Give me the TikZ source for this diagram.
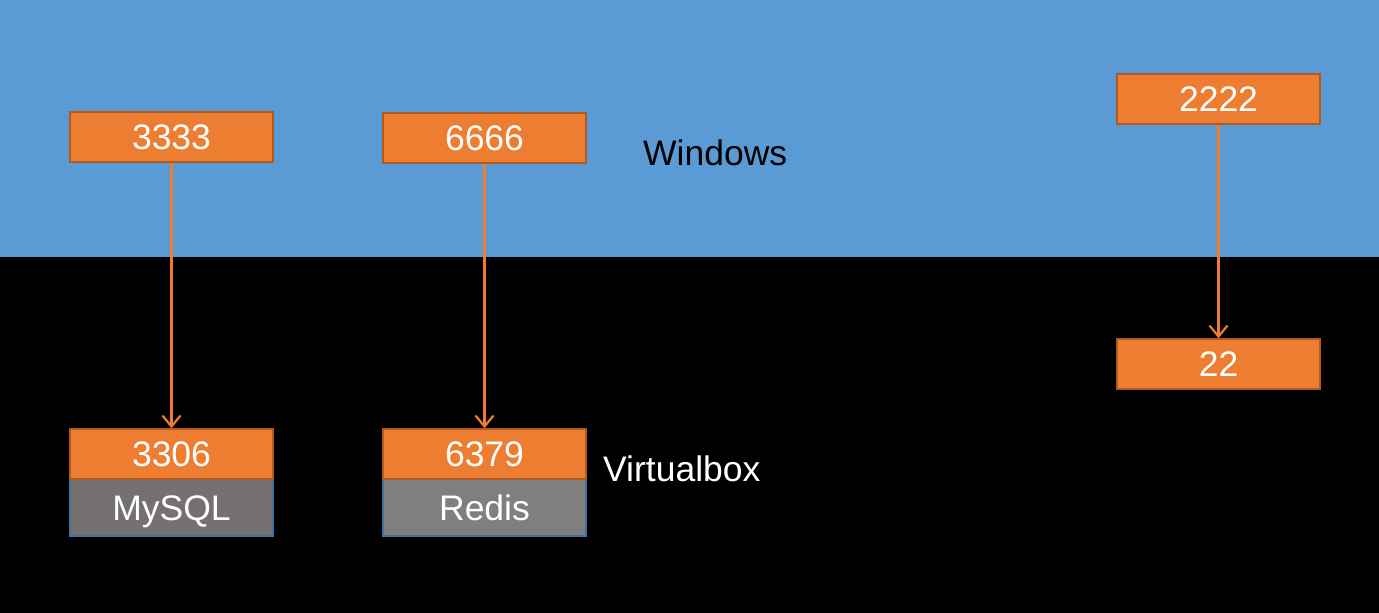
\documentclass[tikz,border=0pt]{standalone}
\usepackage{fontspec}
\setmainfont{Liberation Sans}
\usetikzlibrary{arrows.meta}
\definecolor{winblue}{HTML}{5B9BD5}
\definecolor{porange}{HTML}{ED7D31}
\definecolor{pborder}{HTML}{AE5A21}
\definecolor{gbord}{HTML}{41719C}
\definecolor{mysqlgray}{HTML}{767171}
\definecolor{redisgray}{HTML}{7F7F7F}
\tikzset{
  bigfont/.style={font=\fontsize{35.5}{40}\selectfont, text height=25.4pt, text depth=0pt},
  port/.style={draw=pborder, line width=1.5pt, fill=porange, text=white,
    minimum width=203pt, minimum height=50pt, inner sep=0pt, bigfont},
  svc/.style={draw=gbord, line width=1.2pt, text=white,
    minimum width=203pt, minimum height=57pt, inner sep=0pt, bigfont},
  lbl/.style={inner sep=0pt, bigfont},
  arr/.style={draw=porange, line width=2.2pt, -{Straight Barb[length=11pt,width=18pt,line width=2.2pt]}}
}
\begin{document}
\begin{tikzpicture}[x=1pt,y=-1pt]
\useasboundingbox (0,0) rectangle (1379,613);
\fill[winblue] (0,0) rectangle (1379,257);
\fill[black] (0,257) rectangle (1379,613);

\node[port] (p3333) at (171.5,137) {3333};
\node[port] (p6666) at (484.5,138) {6666};
\node[port] (p2222) at (1218.5,99) {2222};
\node[port] (p22) at (1218.5,364) {22};

\node[svc, fill=mysqlgray] (mysql) at (171.5,507.5) {MySQL};
\node[svc, fill=redisgray] (redis) at (484.5,507.5) {Redis};
\node[port] (p3306) at (171.5,454) {3306};
\node[port] (p6379) at (484.5,454) {6379};

\node[lbl, text=black, anchor=west] (win) at (643,153) {Windows};
\node[lbl, text=white, anchor=west] (vbox) at (603,469) {Virtualbox};

\draw[arr] (p3333) -- (p3306);
\draw[arr] (p6666) -- (p6379);
\draw[arr] (p2222) -- (p22);
\end{tikzpicture}
\end{document}
